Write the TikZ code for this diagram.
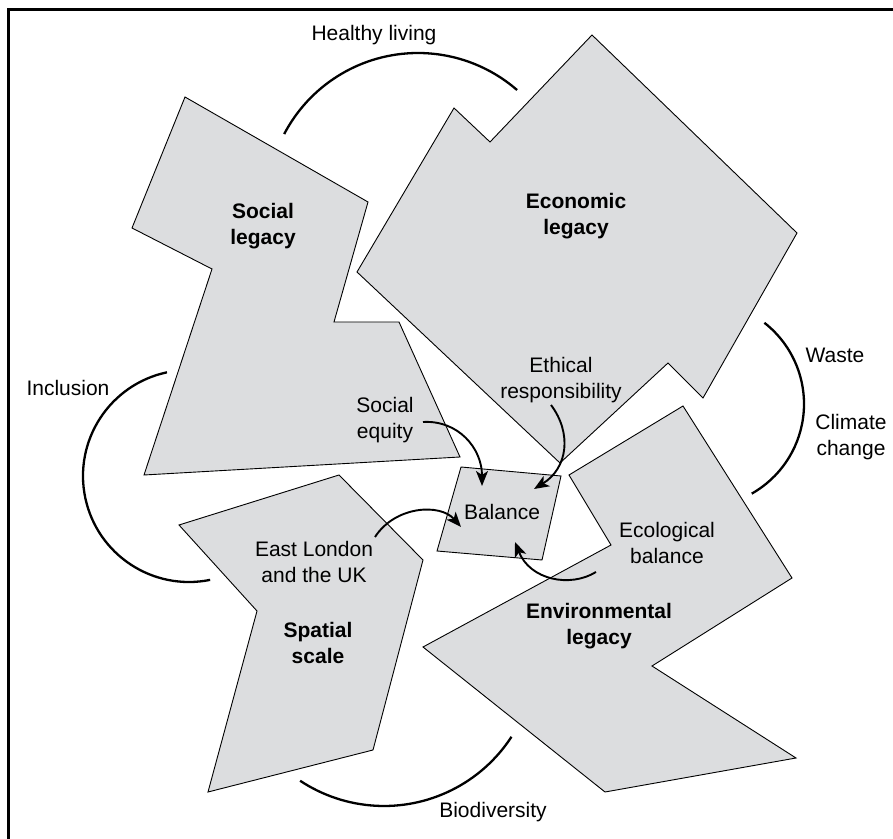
\documentclass[tikz,border=0pt]{standalone}
\usepackage{fontspec}
\setmainfont{Liberation Sans}
\usetikzlibrary{arrows.meta}
\definecolor{shade}{RGB}{220,221,223}
\begin{document}
\begin{tikzpicture}[x=1pt,y=1pt,
  poly/.style={draw=black, fill=shade, line width=0.9pt, line join=miter},
  lbl/.style={font=\fontsize{21}{25.5}\selectfont, align=center, inner sep=0pt},
  blbl/.style={font=\fontsize{21}{25.5}\selectfont\bfseries, align=center, inner sep=0pt},
  ring/.style={line width=2.3pt},
  flow/.style={line width=1.9pt, -{Stealth[length=15pt,width=12pt,inset=4pt]}}]
\useasboundingbox (0,0) rectangle (893,838);
% frame
\draw[line width=2.6pt] (8.7,-20) -- (8.7,828.3) -- (910,828.3);
% polygons
\draw[poly] (185,741) -- (368,636) -- (334,516) -- (399,516) -- (460,381) -- (144,363) -- (212,569) -- (132,610) -- cycle;
\draw[poly] (592,803) -- (797,605) -- (703,440) -- (668,475) -- (560,375) -- (357,566) -- (454,730) -- (490,696) -- cycle;
\draw[poly] (179,313) -- (339,363) -- (423,278) -- (373,88) -- (208,46) -- (257,227) -- cycle;
\draw[poly] (683,432) -- (792,260) -- (652,172) -- (796,80) -- (605,46) -- (423,191) -- (611,293) -- (569,363) -- cycle;
\draw[poly] (461,371) -- (561,362) -- (542,278) -- (437,287) -- cycle;
% outer arcs
\draw[ring] (418,634) ++(152.4:151) arc[start angle=152.4, end angle=49, radius=151];
\draw[ring] (189,362) ++(102:106) arc[start angle=102, end angle=281.5, radius=106];
\draw[ring] (701,434) ++(52:103) arc[start angle=52, end angle=-60.5, radius=103];
\draw[ring] (384,184) ++(236.5:152) arc[start angle=236.5, end angle=327, radius=152];
% labels
\node[lbl] (healthy) at (374,803) {Healthy living};
\node[blbl] (social) at (263,612) {Social\\legacy};
\node[blbl] (economic) at (576,622) {Economic\\legacy};
\node[lbl] (inclusion) at (68,450) {Inclusion};
\node[lbl] (equity) at (385,418) {Social\\equity};
\node[lbl] (ethical) at (561,458) {Ethical\\responsibility};
\node[lbl] (waste) at (835,483) {Waste};
\node[lbl] (climate) at (851,401) {Climate\\change};
\node[lbl] (balance) at (502,326) {Balance};
\node[lbl] (london) at (314,276) {East London\\and the UK};
\node[blbl] (spatial) at (318,195) {Spatial\\scale};
\node[lbl] (ecological) at (667,295) {Ecological\\balance};
\node[blbl] (environmental) at (599,212) {Environmental\\legacy};
\node[lbl] (biodiversity) at (493,26) {Biodiversity};
% arrow end points
\coordinate (eqS) at (423,416);
\coordinate (eqE) at (482,352);
\coordinate (etS) at (551,433);
\coordinate (etE) at (534,349);
\coordinate (loS) at (375,301);
\coordinate (loE) at (461,311);
\coordinate (ecS) at (596,266);
\coordinate (ecE) at (515,296);
\draw[flow] (eqS) .. controls (458,418) and (482,390) .. (eqE);
\draw[flow] (etS) .. controls (572,405) and (568,370) .. (etE);
\draw[flow] (loS) .. controls (395,332) and (440,335) .. (loE);
\draw[flow] (ecS) .. controls (570,250) and (530,258) .. (ecE);
\end{tikzpicture}
\end{document}
